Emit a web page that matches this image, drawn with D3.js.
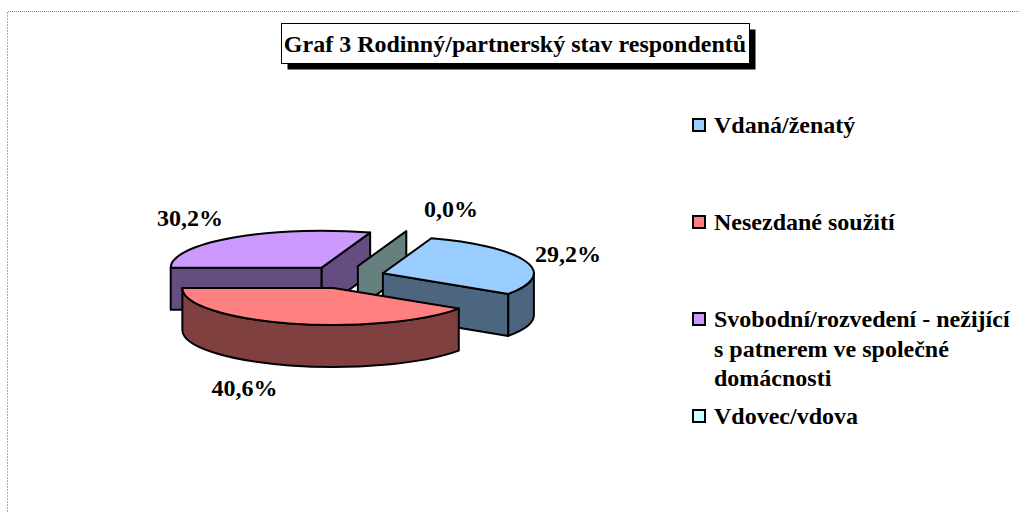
<!DOCTYPE html>
<html><head><meta charset="utf-8">
<script src="https://cdn.jsdelivr.net/npm/d3@7"></script>
<style>body{margin:0;background:#fff} svg{display:block}</style>
</head><body><svg id="c" width="1019" height="512"></svg>
<script>
// ---- data ----
const title = "Graf 3 Rodinný/partnerský stav respondentů";
const categories = ["Vdaná/ženatý", "Nesezdané soužití", "Svobodní/rozvedení - nežijící s patnerem ve společné domácnosti", "Vdovec/vdova"];
const values = [29.2, 40.6, 30.2, 0.0];
const valueLabels = ["29,2%", "40,6%", "30,2%", "0,0%"];
const topColors = ["#99CCFF", "#FF8080", "#CC99FF", "#CCFFFF"];
const sideColors = ["#4D6680", "#804040", "#664D80", "#668080"];

// ---- layout ----
const W = 1019, H = 512;
const FONT = "'Liberation Serif','Times New Roman',serif";
const FS = 24;
const svg = d3.select("#c");

// outer dotted frame
svg.append("line").attr("x1", 8).attr("x2", W).attr("y1", 11.5).attr("y2", 11.5)
  .attr("stroke", "#888").attr("stroke-dasharray", "1,1");
svg.append("line").attr("x1", 7.5).attr("x2", 7.5).attr("y1", 12).attr("y2", H)
  .attr("stroke", "#aaa").attr("stroke-dasharray", "2,1");

// title with shadow box
const tg = svg.append("g");
const shadow = tg.append("rect").attr("fill", "#000");
const box = tg.append("rect").attr("fill", "#fff").attr("stroke", "#000").attr("stroke-width", 1);
const tt = tg.append("text").attr("x", 515).attr("y", 51.5).attr("text-anchor", "middle")
  .attr("font-family", FONT).attr("font-weight", "bold").attr("font-size", FS).text(title);
const bx = 281.5, bw = 468, by = 23.5, bh = 40;
box.attr("x", bx).attr("y", by).attr("width", bw).attr("height", bh);
shadow.attr("x", bx + 6).attr("y", by + 6).attr("width", bw).attr("height", bh);

// ---- 3D pie ----
const O = {x: 345, y: 277}, Rx = 151, Ry = 37, depth = 42, exX = 40, exY = 11.5;
const a0 = 18.72 * Math.PI / 180;
const arcs = d3.pie().sort(null).value(d => d).startAngle(a0).endAngle(a0 + 2 * Math.PI)(values);

const slices = arcs.map((a, i) => {
  const s = a.startAngle, e = a.endAngle, mid = (s + e) / 2;
  const c = {x: O.x + exX * Math.sin(mid), y: O.y - exY * Math.cos(mid)};
  return {i, s, e, mid, c};
});
const pt = (c, a, dz = 0) => [c.x + Rx * Math.sin(a), c.y - Ry * Math.cos(a) + dz];
const P = p => p[0].toFixed(2) + "," + p[1].toFixed(2);

const walls = [], outer = [], tops = [];
slices.forEach(sl => {
  const {s, e, c, i} = sl;
  if (Math.sin(s) < -1e-6) walls.push({type: 0, key: -c.x, i, a: s, c});
  if (Math.sin(e) > 1e-6) walls.push({type: 1, key: c.x, i, a: e, c});
  for (let k = 0; k < 2; k++) {
    const lo = Math.max(s, Math.PI / 2 + 2 * Math.PI * k), hi = Math.min(e, 1.5 * Math.PI + 2 * Math.PI * k);
    if (hi > lo + 1e-6) outer.push({i, lo, hi, c});
  }
  if (e - s > 1e-6) tops.push({i, s, e, c});
});
walls.sort((a, b) => a.type - b.type || a.key - b.key);
outer.sort((a, b) => a.c.y - b.c.y);
tops.sort((a, b) => a.c.y - b.c.y);

const pie = svg.append("g").attr("stroke", "#000").attr("stroke-width", 2).attr("stroke-linejoin", "round");
walls.forEach(w => {
  const p1 = pt(w.c, w.a), p2 = pt(w.c, w.a, depth);
  pie.append("path").attr("fill", sideColors[w.i])
    .attr("d", `M${P([w.c.x, w.c.y])}L${P(p1)}L${P(p2)}L${P([w.c.x, w.c.y + depth])}Z`);
});
outer.forEach(o => {
  const p1 = pt(o.c, o.lo), p2 = pt(o.c, o.hi), p3 = pt(o.c, o.hi, depth), p4 = pt(o.c, o.lo, depth);
  const large = (o.hi - o.lo) > Math.PI ? 1 : 0;
  pie.append("path").attr("fill", sideColors[o.i])
    .attr("d", `M${P(p1)}A${Rx},${Ry} 0 ${large} 1 ${P(p2)}L${P(p3)}A${Rx},${Ry} 0 ${large} 0 ${P(p4)}Z`);
});
tops.forEach(t => {
  const p1 = pt(t.c, t.s), p2 = pt(t.c, t.e);
  const large = (t.e - t.s) > Math.PI ? 1 : 0;
  pie.append("path").attr("fill", topColors[t.i])
    .attr("d", `M${P([t.c.x, t.c.y])}L${P(p1)}A${Rx},${Ry} 0 ${large} 1 ${P(p2)}Z`);
});

// data labels
const labG = svg.append("g").attr("font-family", FONT).attr("font-weight", "bold").attr("font-size", FS)
  .attr("text-anchor", "middle").attr("fill", "#000");
slices.forEach(sl => {
  const sn = Math.sin(sl.mid), cs = Math.cos(sl.mid);
  const x = O.x + (Rx + 36) * sn + Math.sign(sn) * 46;
  const y = O.y - (Ry + 35) * cs + (cs < 0 ? depth : 0);
  labG.append("text").attr("x", x).attr("y", y + 8).text(valueLabels[sl.i]);
});

// legend
const ly = d3.scaleLinear().domain([0, categories.length - 1]).range([125, 416]);
const leg = svg.append("g");
categories.forEach((name, i) => {
  const y = ly(i);
  leg.append("rect").attr("x", 693).attr("y", y - 6).attr("width", 12).attr("height", 12)
    .attr("fill", topColors[i]).attr("stroke", "#000").attr("stroke-width", 2);
  const t = leg.append("text").attr("x", 714).attr("y", y + 8)
    .attr("font-family", FONT).attr("font-weight", "bold").attr("font-size", FS).attr("fill", "#000");
  const words = name.split(" ");
  let line = [], tsp = t.append("tspan").attr("x", 714).attr("dy", 0);
  words.forEach(wd => {
    line.push(wd);
    tsp.text(line.join(" "));
    if (tsp.node().getComputedTextLength() > 300 && line.length > 1) {
      line.pop(); tsp.text(line.join(" "));
      line = [wd];
      tsp = t.append("tspan").attr("x", 714).attr("dy", 29.5).text(wd);
    }
  });
});
</script></body></html>
